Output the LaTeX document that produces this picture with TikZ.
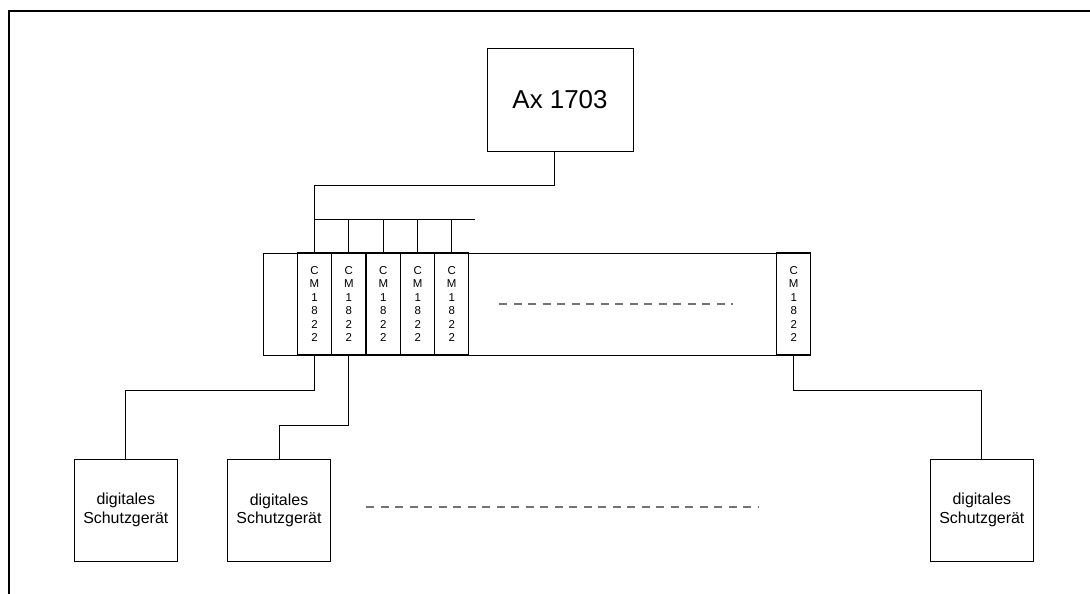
\documentclass[tikz,border=0pt]{standalone}
\usepackage{fontspec}
\setmainfont{Liberation Sans}
\begin{document}
\begin{tikzpicture}[x=1bp,y=-1bp,
  line width=0.9bp,
  box/.style={draw,inner sep=0pt,align=center},
  modbox/.style={draw,line width=1.2bp,fill=white,inner sep=0pt,minimum width=34.2bp,minimum height=102bp,align=center,font=\fontsize{11.5}{13.4}\selectfont},
  devbox/.style={box,minimum width=103bp,minimum height=102bp,font=\fontsize{16}{18.5}\selectfont},
  dots/.style={draw=black!55,line width=1.6bp,dash pattern=on 8bp off 6.5bp}]
\useasboundingbox (0,0) rectangle (1090,594);
\draw[line width=2.6bp] (9,594) -- (9,11) -- (1090,11);
% top box
\node[box,minimum width=146bp,minimum height=103bp,font=\fontsize{26}{30}\selectfont] (ax) at (560,99.5) {Ax 1703};
% rack
\node[box,minimum width=547.7bp,minimum height=102bp] (rack) at (536.85,304) {};
\node[modbox] (m1) at (314.5,304) {C\\M\\1\\8\\2\\2};
\node[modbox] (m2) at (348.85,304) {C\\M\\1\\8\\2\\2};
\node[modbox] (m3) at (383.35,304) {C\\M\\1\\8\\2\\2};
\node[modbox] (m4) at (417.7,304) {C\\M\\1\\8\\2\\2};
\node[modbox] (m5) at (451.7,304) {C\\M\\1\\8\\2\\2};
\node[modbox] (m6) at (793.7,304) {C\\M\\1\\8\\2\\2};
% devices
\node[devbox] (d1) at (125.8,510) {digitales\\Schutzgerät};
\node[devbox] (d2) at (279,510.5) {digitales\\Schutzgerät};
\node[devbox] (d3) at (981.85,510) {digitales\\Schutzgerät};
% bus
\coordinate (busend) at (475,219);
\draw ([xshift=-6bp]ax.south) -- ++(0,34) -| (m1.north);
\draw (m1.north |- busend) -- (busend);
\foreach \m in {m2,m3,m4,m5} \draw (\m.north |- busend) -- (\m.north);
% down links
\draw (m1.south) |- ([yshift=68bp]d1.north) -- (d1.north);
\draw (m2.south) |- ([yshift=34bp]d2.north) -- (d2.north);
\draw (m6.south) |- ([yshift=68bp]d3.north) -- (d3.north);
% dashed ellipses
\draw[dots] (499,304) -- (733,304);
\draw[dots] (366,507) -- (758,507);
\end{tikzpicture}
\end{document}
